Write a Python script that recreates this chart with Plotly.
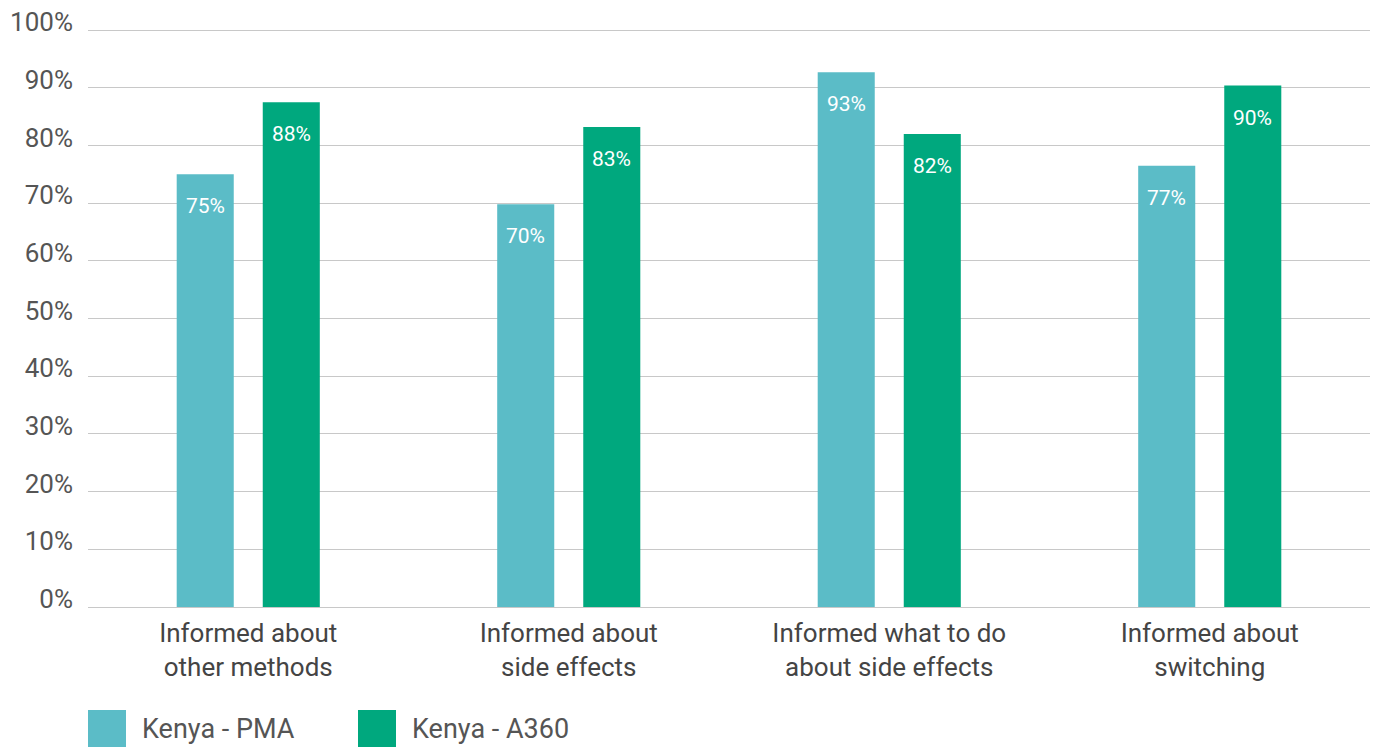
import plotly.graph_objects as go

categories = ["Informed about<br>other methods", "Informed about<br>side effects",
              "Informed what to do<br>about side effects", "Informed about<br>switching"]
series_names = ["Kenya - PMA", "Kenya - A360"]
pma_values = [75.0, 69.8, 92.7, 76.5]
a360_values = [87.5, 83.2, 82.0, 90.4]
pma_labels = ["75%", "70%", "93%", "77%"]
a360_labels = ["88%", "83%", "82%", "90%"]
tick_vals = [0, 10, 20, 30, 40, 50, 60, 70, 80, 90, 100]
tick_text = ["0%", "10%", "20%", "30%", "40%", "50%", "60%", "70%", "80%", "90%", "100%"]

colors = ["#5BBCC7", "#00A87E"]
FONT = "Roboto"
GREY = "#555555"
W, H = 1375, 747
PL, PR, PT, PB = 88, 5, 29, 140
PW, PH = W - PL - PR, H - PT - PB
Y0 = PT + PH  # pixel of plot bottom

fig = go.Figure()
for name, vals, col in zip(series_names, [pma_values, a360_values], colors):
    fig.add_trace(go.Bar(x=categories, y=vals, name=name, marker=dict(color=col, line=dict(width=0)),
                         showlegend=False, hoverinfo="x+y"))

annotations = []
offset = 0.134
for j, (vals, labs) in enumerate([(pma_values, pma_labels), (a360_values, a360_labels)]):
    for i, (v, t) in enumerate(zip(vals, labs)):
        annotations.append(dict(x=i + (offset if j else -offset), y=v, xref="x", yref="y",
                                text=t, showarrow=False, yanchor="top", yshift=-18,
                                font=dict(family=FONT, size=21, color="white")))

# legend drawn as swatches + labels below the plot
swatch_pos = [(88, 140), (358, 410)]
shapes = []
for (sx, tx), name, col in zip(swatch_pos, series_names, colors):
    shapes.append(dict(type="rect", xref="paper", yref="paper",
                       x0=(sx - PL) / PW, x1=(sx + 38 - PL) / PW,
                       y0=-(747 - Y0) / PH, y1=-(710 - Y0) / PH,
                       fillcolor=col, line=dict(width=0), layer="above"))
    annotations.append(dict(x=(tx - PL) / PW, y=-(729 - Y0) / PH, xref="paper", yref="paper",
                            text=name, showarrow=False, xanchor="left", yanchor="middle",
                            font=dict(family=FONT, size=27, color=GREY)))

fig.update_layout(
    width=W, height=H,
    margin=dict(l=PL, r=PR, t=PT, b=PB, pad=0),
    paper_bgcolor="white", plot_bgcolor="white",
    barmode="group", bargap=0.463, bargroupgap=0.337,
    font=dict(family=FONT, color=GREY),
    xaxis=dict(tickfont=dict(family=FONT, size=26, color="#444444"), showgrid=False,
               showline=False, ticks="", automargin=False, ticklabelstandoff=8),
    yaxis=dict(range=[0, 100.2], tickvals=tick_vals, ticktext=tick_text,
               tickfont=dict(family=FONT, size=26, color=GREY),
               ticklabelshift=-8,
               showgrid=True, gridcolor="#C8C8C8", gridwidth=1, zeroline=True,
               zerolinecolor="#C8C8C8", zerolinewidth=1, showline=False, ticks="",
               ticklabelstandoff=14, automargin=False),
    annotations=annotations, shapes=shapes, showlegend=False,
)
fig.write_html("out.html")
